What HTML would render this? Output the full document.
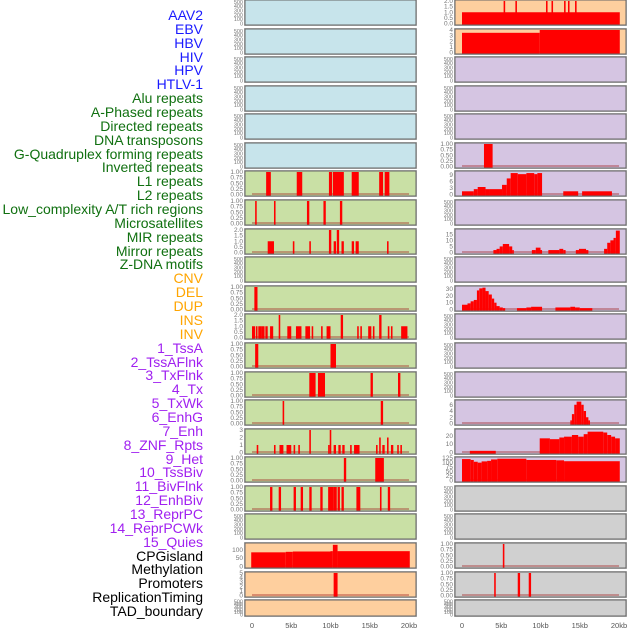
<!DOCTYPE html>
<html><head><meta charset="utf-8">
<style>
html,body{margin:0;padding:0;background:#fff;}
#wrap{position:relative;width:630px;height:630px;overflow:hidden;font-family:"Liberation Sans",sans-serif;}
.lab{position:absolute;right:427px;font-size:14px;line-height:14px;white-space:nowrap;}
svg{position:absolute;left:0;top:0;}
</style></head>
<body>
<div id="wrap">
<svg id="chart" width="630" height="630"></svg>
</div>
<script>
// ---- labels ----
const labels = ["AAV2","EBV","HBV","HIV","HPV","HTLV-1","Alu repeats","A-Phased repeats","Directed repeats","DNA transposons","G-Quadruplex forming repeats","Inverted repeats","L1 repeats","L2 repeats","Low_complexity A/T rich regions","Microsatellites","MIR repeats","Mirror repeats","Z-DNA motifs","CNV","DEL","DUP","INS","INV","1_TssA","2_TssAFlnk","3_TxFlnk","4_Tx","5_TxWk","6_EnhG","7_Enh","8_ZNF_Rpts","9_Het","10_TssBiv","11_BivFlnk","12_EnhBiv","13_ReprPC","14_ReprPCWk","15_Quies","CPGisland","Methylation","Promoters","ReplicationTiming","TAD_boundary"];
const labelGroups = ["virus","virus","virus","virus","virus","virus","rep","rep","rep","rep","rep","rep","rep","rep","rep","rep","rep","rep","rep","sv","sv","sv","sv","sv","chrom","chrom","chrom","chrom","chrom","chrom","chrom","chrom","chrom","chrom","chrom","chrom","chrom","chrom","chrom","other","other","other","other","other"];
// ---- x axis ----
const xTicks = [0,5,10,15,20];
const xTickLabels = ["0","5kb","10kb","15kb","20kb"];
// ---- tick sets ----
const tEmpty = [0,100,200,300,400,500];
const tUnit = [0,0.25,0.5,0.75,1];
const tTwo = [0,0.5,1,1.5,2];
// ---- left column series: [startKb,endKb,value] ----
const L6 = [[1.8,2.4,1],[5.7,6.4,1],[9.8,10.2,1],[10.3,11.7,1],[12.7,13.6,1],[16.2,16.7,1],[16.9,17.5,1]];
const L7 = [[0.4,0.6,1],[2.8,3.0,1],[7.0,7.3,1],[9.1,9.4,1],[11.2,11.5,1]];
const L8 = [[2.0,2.8,1],[5.2,5.4,1],[7.3,7.5,1],[9.8,10.1,2],[10.4,10.7,1],[10.8,11.1,2],[11.4,11.7,1],[12.7,13.0,1],[13.2,13.6,1],[17.2,17.4,1]];
const L10 = [[0.3,0.7,1]];
const L11 = [[0,0.4,1],[0.5,0.7,1],[0.8,1.2,1],[1.2,1.6,1],[1.7,2.0,1],[2.3,2.7,1],[3.4,3.6,2],[4.5,5.0,1],[5.6,6.3,1],[6.8,7.4,1],[7.6,7.8,1],[8.8,9.0,1],[9.5,10.0,1],[11.3,11.6,2],[13.4,13.6,1],[13.8,14.0,1],[14.8,15.2,1],[15.4,15.6,1],[16.2,16.5,2],[17.3,17.5,1],[17.7,17.9,1],[19.0,19.8,1]];
const L12 = [[0.4,0.8,1],[10.0,10.7,1]];
const L13 = [[7.3,8.1,1],[8.4,9.3,1],[15.1,15.4,1],[18.6,18.9,1]];
const L14 = [[3.9,4.1,1],[16.4,16.7,1]];
const L15 = [[0.6,0.8,1],[2.8,3.0,1],[3.5,4.0,1],[4.4,5.0,1],[5.3,5.5,1],[5.9,6.1,1],[7.3,7.5,3],[9.7,9.9,1],[9.9,10.1,3],[10.4,10.7,1],[11.0,11.3,1],[11.5,11.8,1],[12.5,12.7,1],[13.0,13.7,1],[15.8,16.0,1],[16.2,16.4,2],[16.6,16.9,1],[17.2,17.4,2],[17.7,18.0,1],[18.5,18.7,1],[18.9,19.1,1]];
const L16 = [[11.7,12.0,1],[15.7,16.8,1]];
const L17 = [[2.3,2.6,1],[3.4,3.7,1],[5.3,5.6,1],[6.2,6.5,1],[7.3,7.6,1],[8.7,9.0,1],[9.7,10.4,1],[10.4,10.8,1],[10.9,11.2,1],[11.4,11.7,1],[13.3,13.8,1],[16.3,16.5,1],[17.3,17.6,1]];
const L19 = [[-0.1,4.3,85],[4.3,5.2,88],[5.2,10.0,90],[10.0,10.3,92],[10.3,10.9,130],[10.9,20.1,92]];
const L20 = [[10.4,10.9,5]];
// ---- right column series ----
const R0 = [[0,20.1,1],[5.3,5.5,2],[6.8,7.0,2],[10.7,10.9,2],[11.4,11.6,2],[13.0,13.2,2],[13.5,13.7,2],[14.4,14.6,2]];
const R1 = [[0,9.9,3.5],[9.9,20.1,4]];
const R5 = [[2.8,3.9,1]];
const R6 = [[0,1.5,1.5],[1.5,2.0,2.5],[2.0,3.0,3.5],[3.0,3.5,2.5],[3.5,5.1,2.5],[5.1,5.7,4.5],[5.7,6.2,7.5],[6.2,7.1,10],[7.1,8.2,9.5],[8.2,9.2,10],[9.2,9.6,9.5],[9.6,10.2,10],[12.9,14.8,1.5],[15.3,19.1,1.5]];
const R8 = [[4.0,4.4,2],[4.4,4.8,3],[4.8,5.2,5],[5.2,6.0,7],[6.0,6.4,5],[6.4,6.6,2],[8.9,9.4,2],[9.4,10.0,4],[10.0,10.2,2],[11.0,12.4,2],[12.4,12.9,3],[12.9,13.2,2],[14.5,14.9,2],[14.9,15.8,3],[15.8,16.1,2],[18.1,18.5,3],[18.5,18.9,8],[18.9,19.3,10],[19.3,19.6,12],[19.6,20.1,18]];
const R10 = [[0,0.7,7],[0.7,1.1,9],[1.1,1.5,12],[1.5,1.9,14],[1.9,2.2,28],[2.2,2.6,31],[2.6,3.0,32],[3.0,3.4,27],[3.4,3.8,22],[3.8,4.1,16],[4.1,4.4,10],[4.4,4.8,5],[4.8,5.2,3],[5.2,5.5,2],[7.0,8.2,2],[8.2,8.8,3],[8.8,10.2,4],[11.9,13.8,3],[13.8,14.4,4],[14.4,15.0,3],[15.0,16.6,2]];
const R14 = [[13.8,14.0,1],[14.0,14.3,3],[14.3,14.6,6],[14.6,15.2,7],[15.2,15.5,6],[15.5,15.8,4],[15.8,16.1,2],[16.1,16.3,1]];
const R15 = [[1.0,4.3,2],[9.9,11.2,17],[11.2,12.4,16],[12.4,13.0,18],[13.0,14.0,19],[14.0,14.8,21],[14.8,15.5,19],[15.5,16.0,22],[16.0,18.0,25],[18.0,18.5,24],[18.5,19.0,21],[19.0,19.5,19],[19.5,20.1,17]];
const R16 = [[0,1.1,120],[1.1,1.5,115],[1.5,2.0,105],[2.0,2.5,100],[2.5,3.2,107],[3.2,3.7,110],[3.7,4.5,118],[4.5,8.2,122],[8.2,12.0,115],[12.0,13.0,113],[13.0,20.1,108]];
const R19 = [[5.2,5.4,1]];
const R20 = [[4.1,4.3,1],[7.1,7.4,1],[8.5,8.8,1]];

const BLUE="#c7e4eb",GREEN="#c9e0a5",ORANGE="#fecf9e",PURPLE="#d5c5e2",GRAY="#d0d0d0";
const leftRows = [
 [null,520,tEmpty,0,BLUE],[null,520,tEmpty,0,BLUE],[null,520,tEmpty,0,BLUE],[null,520,tEmpty,0,BLUE],[null,520,tEmpty,0,BLUE],[null,520,tEmpty,0,BLUE],
 [L6,1,tUnit,2,GREEN],[L7,1,tUnit,2,GREEN],[L8,2,tTwo,1,GREEN],[null,520,tEmpty,0,GREEN],[L10,1,tUnit,2,GREEN],[L11,2,tTwo,1,GREEN],
 [L12,1,tUnit,2,GREEN],[L13,1,tUnit,2,GREEN],[L14,1,tUnit,2,GREEN],[L15,3,[0,1,2,3],0,GREEN],[L16,1,tUnit,2,GREEN],[L17,1,tUnit,2,GREEN],
 [null,520,tEmpty,0,GREEN],[L19,135,[0,50,100],0,ORANGE],[L20,5,[0,1,2,3,4,5],0,ORANGE],[null,520,tEmpty,0,ORANGE]];
const rightRows = [
 [R0,2,tTwo,1,ORANGE],[R1,4,[0,1,2,3,4],0,ORANGE],[null,520,tEmpty,0,PURPLE],[null,520,tEmpty,0,PURPLE],[null,520,tEmpty,0,PURPLE],[R5,1,tUnit,2,PURPLE],
 [R6,10.5,[0,3,6,9],0,PURPLE],[null,520,tEmpty,0,PURPLE],[R8,18.5,[0,5,10,15],0,PURPLE],[null,520,tEmpty,0,PURPLE],[R10,33,[0,10,20,30],0,PURPLE],[null,520,tEmpty,0,PURPLE],
 [null,520,tEmpty,0,PURPLE],[null,520,tEmpty,0,PURPLE],[R14,7.2,[0,2,4,6],0,PURPLE],[R15,27,[0,10,20],0,PURPLE],[R16,126,[0,25,50,75,100,125],0,PURPLE],[null,520,tEmpty,0,GRAY],
 [null,520,tEmpty,0,GRAY],[R19,1,tUnit,2,GRAY],[R20,1,tUnit,2,GRAY],[null,520,tEmpty,0,GRAY]];

const NS="http://www.w3.org/2000/svg";
const svg=document.getElementById('chart');
function mk(tag,attrs,parent){const e=document.createElementNS(NS,tag);for(const k in attrs)e.setAttribute(k,attrs[k]);(parent||svg).appendChild(e);return e;}
const groupColors={virus:"#1a1aff",rep:"#107010",sv:"#ffa500",chrom:"#a020f0",other:"#000"};

labels.forEach((t,i)=>{
  const d=document.createElement('div');
  d.className='lab';
  d.textContent=t;
  d.style.top=(8+i*13.86)+'px';
  d.style.color=groupColors[labelGroups[i]];
  
  
  document.getElementById('wrap').appendChild(d);
});

function rowTop(i){return Math.round(i*28.58);}
function drawPanel(row,i,px0,side){
  const [series,ymax,ticks,dec,bg]=row;
  const top=rowTop(i), h=(i===21)?16:25, x=px0-7, w=171;
  const g=mk('g',{});
  
  
  mk('rect',{x:x-0.5,y:top-0.5,width:w+1,height:h+1,fill:'none',stroke:'#bbb','stroke-width':1},g);
  mk('rect',{x:x,y:top,width:w,height:h,fill:bg,stroke:'#666','stroke-width':1},g);
  const base=top+h-1.5, span=h-2.5;
  const yS=v=>base-v/ymax*span;
  const xS=k=>px0+k*7.85;
  ticks.forEach(t=>{
    const tx=mk('text',{x:x-2,y:yS(t)+2,'font-size':(ticks===tEmpty||i===21)?5.5:6.5,'text-anchor':'end',fill:'#777'},g);
    tx.textContent=t.toFixed(dec);
    
    
  });
  if(series){
    mk('line',{x1:xS(0),x2:xS(20),y1:base-0.5,y2:base-0.5,stroke:'rgba(160,30,30,0.5)','stroke-width':1.5},g);
    series.forEach(s=>{
      const r=mk('rect',{x:xS(s[0]),y:yS(s[2]),width:Math.max(1.2,xS(s[1])-xS(s[0])),height:base-yS(s[2])+1,fill:'#ff0000'},g);
      
      
    });
  }
}
leftRows.forEach((r,i)=>drawPanel(r,i,252,'left'));
rightRows.forEach((r,i)=>drawPanel(r,i,462,'right'));
[252,462].forEach(px0=>{
  xTicks.forEach((k,j)=>{
    const t=mk('text',{x:px0+k*7.85,y:628,'font-size':7.5,'text-anchor':'middle',fill:'#555'});
    t.textContent=xTickLabels[j];
    
    
  });
});
</script>
</body></html>
